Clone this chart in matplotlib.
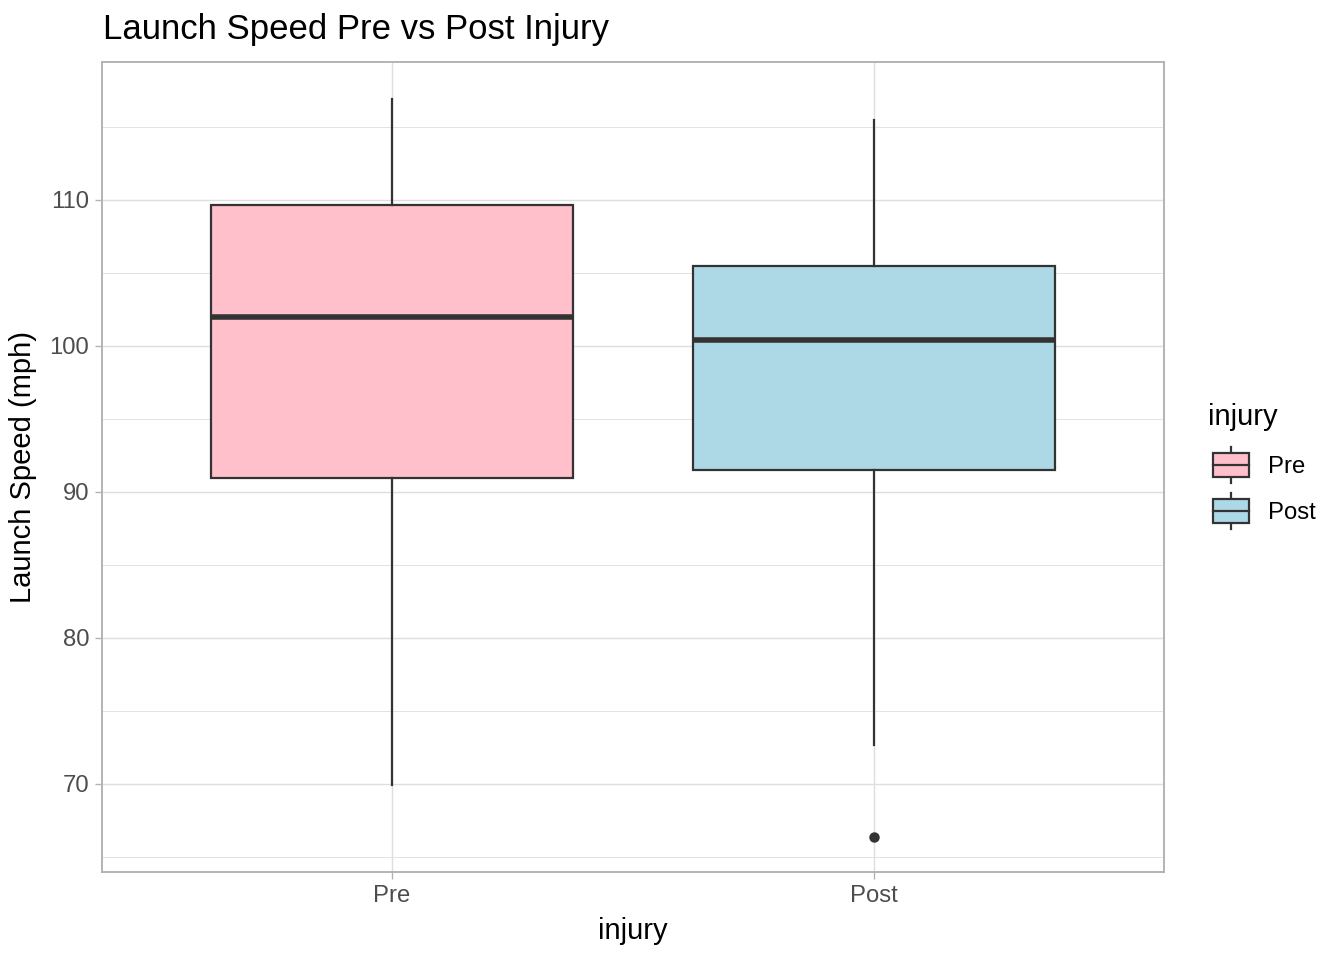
import matplotlib
matplotlib.use("Agg")
import matplotlib.pyplot as plt
from matplotlib.patches import Rectangle

plt.rcParams['font.family'] = ['Liberation Sans', 'DejaVu Sans']

# data
groups = ["Pre", "Post"]
fills = ["#FFC0CB", "#ADD8E6"]
whisker_low = [69.9, 72.7]
q1 = [90.95, 91.5]
medians = [101.95, 100.4]
q3 = [109.65, 105.45]
whisker_high = [116.9, 115.5]
outliers = [[], [66.4]]

y_ticks = [70, 80, 90, 100, 110]
y_minor = [65, 75, 85, 95, 105, 115]

edge = "#333333"
border = "#B3B3B3"
grid = "#DEDEDE"

fig = plt.figure(figsize=(13.44, 9.6), dpi=100)
ax = fig.add_axes([102 / 1344, 1 - 872 / 960, (1164 - 102) / 1344, (872 - 62) / 960])

stats = []
for i, g in enumerate(groups):
    stats.append({
        "label": g, "whislo": whisker_low[i], "q1": q1[i], "med": medians[i],
        "q3": q3[i], "whishi": whisker_high[i], "fliers": outliers[i],
    })

bp = ax.bxp(stats, positions=[1, 2], widths=0.75, patch_artist=True, showcaps=False,
            boxprops=dict(edgecolor=edge, linewidth=1.6),
            whiskerprops=dict(color=edge, linewidth=1.6),
            medianprops=dict(color=edge, linewidth=4.0, solid_capstyle="butt"),
            flierprops=dict(marker="o", markerfacecolor=edge, markeredgecolor=edge,
                            markersize=6.5))
for patch, c in zip(bp["boxes"], fills):
    patch.set_facecolor(c)
for art in bp["boxes"] + bp["whiskers"] + bp["medians"] + bp["fliers"]:
    art.set_zorder(3)

ax.set_xlim(0.4, 2.6)
ax.set_ylim(63.97, 119.45)
ax.set_yticks(y_ticks)
ax.set_yticks(y_minor, minor=True)
ax.set_xticks([1, 2])
ax.set_xticklabels(groups)

ax.grid(True, which="major", color=grid, linewidth=1.0, zorder=0)
ax.grid(True, which="minor", axis="y", color=grid, linewidth=0.6, zorder=0)
ax.set_axisbelow(True)

for s in ax.spines.values():
    s.set_color(border)
    s.set_linewidth(1.4)

ax.tick_params(axis="both", which="major", colors=border, length=5.3, width=1.0,
               labelcolor="#4D4D4D", labelsize=17.2, pad=4)
ax.tick_params(axis="y", which="minor", length=0)

ax.set_xlabel("injury", fontsize=21, labelpad=7)
ax.set_ylabel("Launch Speed (mph)", fontsize=21, labelpad=9)
fig.text(103 / 1344, 1 - 30 / 960, "Launch Speed Pre vs Post Injury", fontsize=25,
         ha="left", va="center")

# legend drawn in pixel coordinates
lg = fig.add_axes([1195 / 1344, 1 - 545 / 960, 149 / 1344, 150 / 960])
lg.set_xlim(1195, 1344)
lg.set_ylim(545, 395)
lg.axis("off")
lg.text(1208, 417, "injury", fontsize=21, ha="left", va="center")
for i, (g, c) in enumerate(zip(groups, fills)):
    cy = 465 + i * 46
    lg.plot([1231, 1231], [cy - 18, cy + 18], color=edge, linewidth=1.6)
    lg.add_patch(Rectangle((1213, cy - 12), 36, 24, facecolor=c, edgecolor=edge,
                           linewidth=1.6, zorder=3))
    lg.plot([1213, 1249], [cy, cy], color=edge, linewidth=1.6, zorder=4)
    lg.text(1268, cy + 2, g, fontsize=17.2, ha="left", va="center")

fig.savefig("out.png", dpi=100)
